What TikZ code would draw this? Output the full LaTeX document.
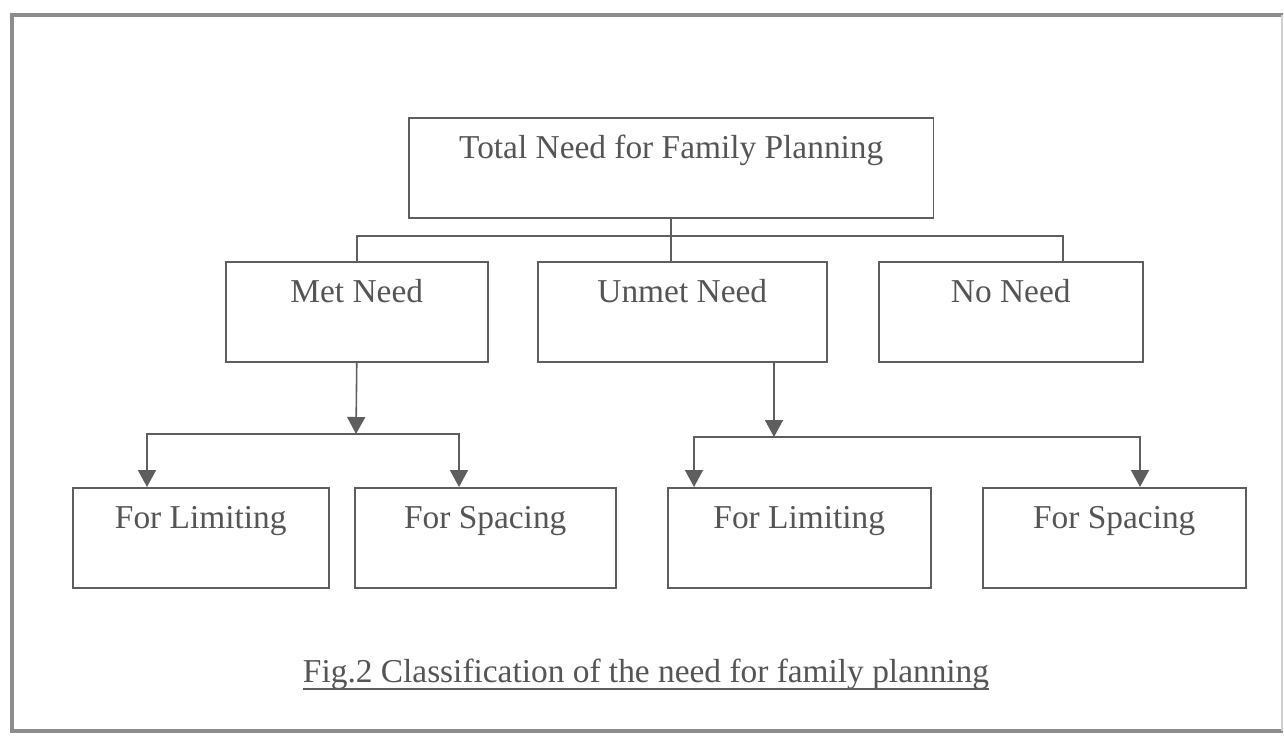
\documentclass[tikz,border=0pt]{standalone}
\usepackage{fontspec}
\setmainfont{Liberation Serif}
\usepackage{xcolor}
\usepackage{tikz}
\usetikzlibrary{arrows.meta}

\definecolor{inkgray}{HTML}{555555}
\definecolor{linegray}{HTML}{5E5E5E}
\definecolor{framegray}{HTML}{8C8C8C}

\tikzset{
  needbox/.style={draw=linegray, line width=0.9pt, anchor=north west,
    inner xsep=0pt, inner ysep=0pt, text=inkgray,
    font=\fontsize{19}{22}\selectfont, text height=0.82cm, text depth=1.18cm},
  link/.style={draw=linegray, line width=0.9pt},
  arr/.style={link, -{Triangle[width=0.36cm,length=0.34cm]}},
}

\begin{document}
\begin{tikzpicture}[x=0.02cm, y=-0.02cm]
\useasboundingbox (0,0) rectangle (1284,736);
\fill[white] (0,0) rectangle (1284,736);
\draw[framegray, line width=2.2pt] (1283,15) -- (12,15) -- (12,731) -- (1283,731);
\draw[framegray!40, line width=0.6pt] (1282,15) -- (1282,731);

\node[needbox, minimum width=10.5cm] (total) at (408,117) {Total Need for Family Planning};

\node[needbox, minimum width=5.24cm] (met) at (225,261) {Met Need};
\node[needbox, minimum width=5.78cm] (unmet) at (537,261) {Unmet Need};
\node[needbox, minimum width=5.28cm] (noneed) at (878,261) {No Need};

\node[needbox, minimum width=5.12cm] (limit1) at (72,487) {For Limiting};
\node[needbox, minimum width=5.22cm] (space1) at (354,487) {For Spacing};
\node[needbox, minimum width=5.26cm] (limit2) at (667,487) {For Limiting};
\node[needbox, minimum width=5.26cm] (space2) at (982,487) {For Spacing};

\coordinate (topbar) at (669,236);
\coordinate (noin) at (1063,261);
\coordinate (metjoin) at (356,434);
\coordinate (lim1in) at (147,487);
\coordinate (spa1in) at (459,487);
\coordinate (unjoin) at (774,437);
\coordinate (lim2in) at (694,487);
\coordinate (spa2in) at (1140,487);

\draw[link] (total.south) -- (total.south |- unmet.north);
\draw[link] (met.north) |- (topbar) -| (noin);

\draw[arr] (met.south) -- (metjoin);
\draw[arr] (metjoin) -| (lim1in);
\draw[arr] (metjoin) -| (spa1in);

\draw[arr] (unmet.south -| unjoin) -- (unjoin);
\draw[arr] (unjoin) -| (lim2in);
\draw[arr] (unjoin) -| (spa2in);

\node[font=\fontsize{19}{22}\selectfont, text=inkgray, inner sep=0pt, anchor=base] (caption) at (646,682) {Fig.2 Classification of the need for family planning};
\draw[linegray, line width=0.7pt] ([yshift=-0.14cm]caption.base west) -- ([yshift=-0.14cm]caption.base east);
\end{tikzpicture}
\end{document}
